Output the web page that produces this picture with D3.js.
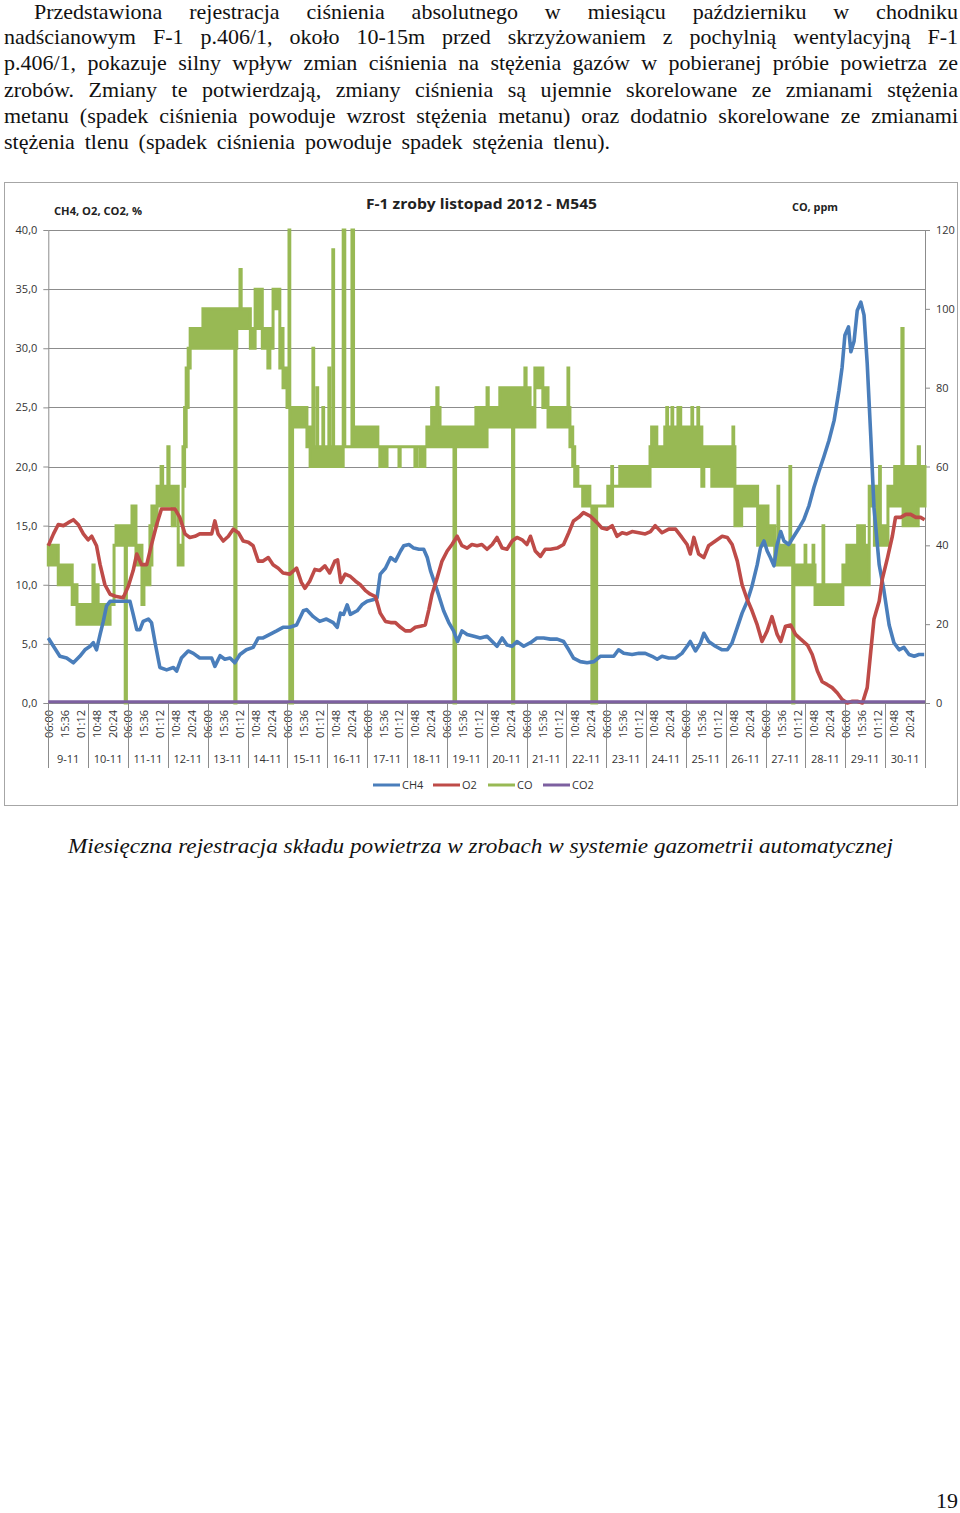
<!DOCTYPE html>
<html><head><meta charset="utf-8">
<script src="https://cdn.jsdelivr.net/npm/d3@7"></script>
<style>
body{margin:0;background:#fff;}
#page{position:relative;width:960px;height:1513px;overflow:hidden;background:#fff;}
.ln{position:absolute;font-family:'Liberation Serif','Times New Roman',serif;font-size:22px;line-height:18px;white-space:nowrap;color:#111;}
svg{position:absolute;left:0;top:0;}
</style></head><body><div id="page"></div>
<script>
// ---------------- DATA ----------------
const paragraphLines = [
  "Przedstawiona rejestracja ciśnienia absolutnego w miesiącu październiku w chodniku",
  "nadścianowym F-1 p.406/1, około 10-15m przed skrzyżowaniem z pochylnią wentylacyjną F-1",
  "p.406/1, pokazuje silny wpływ zmian ciśnienia na stężenia gazów w pobieranej próbie powietrza ze",
  "zrobów. Zmiany te potwierdzają, zmiany ciśnienia są ujemnie skorelowane ze zmianami stężenia",
  "metanu (spadek ciśnienia powoduje wzrost stężenia metanu) oraz dodatnio skorelowane ze zmianami",
  "stężenia tlenu (spadek ciśnienia powoduje spadek stężenia tlenu)."
];
const chartTitle = "F-1 zroby listopad 2012 - M545";
const leftAxisTitle = "CH4, O2, CO2, %";
const rightAxisTitle = "CO, ppm";
const caption = "Miesięczna rejestracja składu powietrza w zrobach w systemie gazometrii automatycznej";
const pageNumber = "19";

const days = ["9-11","10-11","11-11","12-11","13-11","14-11","15-11","16-11","17-11","18-11","19-11",
              "20-11","21-11","22-11","23-11","24-11","25-11","26-11","27-11","28-11","29-11","30-11"];
const timeLabels = ["06:00","15:36","01:12","10:48","20:24"];
const leftTicks = [0,5,10,15,20,25,30,35,40];
const rightTicks = [0,20,40,60,80,100,120];
const seriesNames = ["CH4","O2","CO","CO2"];

// [day offset from 9-11 06:00, %]
const ch4 = [[0.00,5.5],[0.13,4.8],[0.29,3.95],[0.46,3.8],[0.63,3.4],[0.79,3.95],[0.92,4.5],[1.05,4.8],[1.13,5.1],[1.21,4.5],[1.30,5.8],[1.38,6.9],[1.46,8.2],[1.55,8.6],[1.71,8.6],[1.88,8.6],[2.05,8.6],[2.13,7.5],[2.22,6.2],[2.30,6.2],[2.38,6.9],[2.51,7.1],[2.59,6.8],[2.68,5.1],[2.80,3.0],[2.97,2.8],[3.14,3.0],[3.22,2.7],[3.34,3.8],[3.51,4.4],[3.64,4.2],[3.80,3.8],[3.97,3.8],[4.10,3.8],[4.18,3.1],[4.31,4.0],[4.43,3.7],[4.56,3.8],[4.68,3.4],[4.81,4.1],[4.97,4.5],[5.14,4.7],[5.27,5.5],[5.39,5.5],[5.56,5.8],[5.73,6.1],[5.89,6.4],[6.06,6.4],[6.23,6.6],[6.40,7.8],[6.48,7.9],[6.65,7.3],[6.81,6.9],[6.98,7.1],[7.15,6.8],[7.25,6.4],[7.33,7.6],[7.41,7.5],[7.50,8.3],[7.58,7.5],[7.75,7.8],[7.87,8.3],[8.00,8.6],[8.17,8.75],[8.25,8.9],[8.33,10.9],[8.46,11.4],[8.59,12.3],[8.71,12.0],[8.84,12.85],[8.92,13.3],[9.05,13.4],[9.17,13.1],[9.30,13.0],[9.42,13.0],[9.51,12.3],[9.59,11.2],[9.76,9.5],[9.92,7.8],[10.05,6.8],[10.17,6.1],[10.27,5.2],[10.38,6.1],[10.51,5.8],[10.68,5.65],[10.84,5.5],[11.01,5.65],[11.14,5.2],[11.26,4.8],[11.39,5.5],[11.51,4.9],[11.64,4.8],[11.76,5.2],[11.93,4.8],[12.10,5.1],[12.26,5.5],[12.43,5.5],[12.60,5.4],[12.77,5.4],[12.93,5.2],[13.06,4.5],[13.18,3.8],[13.35,3.5],[13.52,3.4],[13.69,3.5],[13.85,3.95],[14.02,3.95],[14.19,3.95],[14.31,4.5],[14.44,4.2],[14.65,4.1],[14.82,4.2],[14.98,4.2],[15.15,3.95],[15.28,3.7],[15.40,3.95],[15.57,3.8],[15.74,3.8],[15.90,4.2],[16.03,4.8],[16.11,5.2],[16.24,4.4],[16.37,5.1],[16.45,5.9],[16.57,5.2],[16.74,4.8],[16.91,4.5],[17.04,4.5],[17.16,5.1],[17.29,6.4],[17.41,7.6],[17.54,8.6],[17.66,9.9],[17.79,11.7],[17.87,13.1],[17.96,13.7],[18.04,12.85],[18.12,12.3],[18.21,11.6],[18.29,13.4],[18.38,14.5],[18.46,13.7],[18.58,13.4],[18.71,14.1],[18.84,14.8],[18.96,15.5],[19.09,16.7],[19.21,18.2],[19.34,19.6],[19.46,20.8],[19.59,22.2],[19.72,23.9],[19.84,26.4],[19.92,28.4],[19.99,31.1],[20.08,31.8],[20.14,29.7],[20.22,30.6],[20.30,33.2],[20.39,33.9],[20.47,32.8],[20.55,28.7],[20.64,22.5],[20.72,16.5],[20.85,11.7],[20.97,9.5],[21.10,6.6],[21.22,5.1],[21.35,4.5],[21.47,4.7],[21.60,4.1],[21.73,3.95],[21.85,4.1],[21.98,4.1]];

const o2 = [[0.00,13.3],[0.13,14.3],[0.25,15.1],[0.38,15.0],[0.50,15.25],[0.63,15.5],[0.75,15.1],[0.88,14.3],[1.00,13.8],[1.09,14.1],[1.21,13.3],[1.30,11.7],[1.42,10.0],[1.55,9.2],[1.71,9.0],[1.88,8.9],[2.01,9.9],[2.13,11.2],[2.22,12.6],[2.34,11.7],[2.47,11.7],[2.59,13.4],[2.72,15.1],[2.84,16.4],[2.97,16.4],[3.09,16.4],[3.18,16.4],[3.30,15.7],[3.43,14.3],[3.55,14.0],[3.68,14.1],[3.80,14.3],[3.97,14.3],[4.10,14.3],[4.18,15.4],[4.26,14.3],[4.39,13.7],[4.52,14.1],[4.64,14.7],[4.77,14.4],[4.89,13.7],[5.02,13.6],[5.14,13.3],[5.27,12.0],[5.39,12.0],[5.52,12.3],[5.64,11.7],[5.77,11.4],[5.89,11.0],[6.06,10.9],[6.23,11.4],[6.35,10.2],[6.44,9.7],[6.56,10.3],[6.69,11.3],[6.81,11.2],[6.94,11.6],[7.06,11.0],[7.19,12.0],[7.26,12.1],[7.34,10.2],[7.45,10.9],[7.58,10.7],[7.71,10.3],[7.83,10.0],[7.96,9.5],[8.08,9.2],[8.21,9.0],[8.33,7.6],[8.46,6.9],[8.59,6.8],[8.71,6.8],[8.84,6.4],[8.96,6.1],[9.09,6.1],[9.21,6.4],[9.34,6.5],[9.46,6.6],[9.55,7.9],[9.63,9.2],[9.76,10.6],[9.88,12.0],[10.01,12.85],[10.13,13.4],[10.26,14.1],[10.38,13.3],[10.51,13.1],[10.63,13.4],[10.76,13.3],[10.88,13.4],[11.01,13.0],[11.14,13.4],[11.26,14.0],[11.39,13.1],[11.51,13.0],[11.64,13.7],[11.76,14.0],[11.89,13.8],[12.01,13.4],[12.10,14.1],[12.22,12.85],[12.35,12.4],[12.47,13.0],[12.60,13.0],[12.77,13.1],[12.93,13.4],[13.06,14.4],[13.18,15.4],[13.31,15.7],[13.43,16.1],[13.60,15.8],[13.77,15.25],[13.89,14.8],[14.02,14.7],[14.15,15.0],[14.27,14.1],[14.40,14.4],[14.52,14.3],[14.65,14.5],[14.82,14.4],[14.98,14.3],[15.11,14.5],[15.23,15.0],[15.40,14.4],[15.57,14.7],[15.74,14.7],[15.90,14.0],[16.03,13.4],[16.11,12.6],[16.20,14.0],[16.32,12.6],[16.45,12.3],[16.57,13.3],[16.74,13.7],[16.91,14.1],[17.04,14.0],[17.16,13.4],[17.29,12.0],[17.41,10.0],[17.54,8.75],[17.66,7.8],[17.79,6.6],[17.91,5.2],[18.04,6.1],[18.16,7.3],[18.29,5.8],[18.38,5.2],[18.50,6.5],[18.63,6.6],[18.75,5.8],[18.88,5.4],[19.05,4.9],[19.17,4.1],[19.30,2.7],[19.42,1.8],[19.55,1.55],[19.67,1.3],[19.80,0.85],[19.92,0.3],[20.05,0.0],[20.18,0.15],[20.30,0.15],[20.43,0.0],[20.55,1.3],[20.64,4.4],[20.72,7.1],[20.85,8.6],[20.93,10.5],[21.06,12.3],[21.18,14.1],[21.26,15.7],[21.39,15.7],[21.52,15.95],[21.64,15.95],[21.77,15.7],[21.89,15.7],[21.99,15.5]];

// CO (ppm): step segments starting at coT, with the band of readings between coLo and coHi
const coT  = [0.00,0.25,0.60,0.72,1.12,1.15,1.25,1.55,1.65,1.70,1.93,1.96,2.10,2.20,2.35,2.40,2.55,2.60,2.73,2.83,2.87,3.00,3.03,3.11,3.18,3.26,3.33,3.38,3.42,3.46,3.51,3.56,3.88,4.68,4.71,4.73,4.81,4.84,5.07,5.19,5.37,5.51,5.56,5.64,5.81,5.89,5.99,6.04,6.06,6.13,6.49,6.57,6.64,6.66,6.74,6.76,6.89,6.91,7.04,7.06,7.14,7.16,7.40,7.44,7.62,7.66,8.27,8.32,8.50,8.80,8.83,9.20,9.25,9.33,9.45,9.50,9.62,9.75,9.78,9.83,10.18,10.22,10.73,11.01,11.04,11.33,11.65,11.68,11.96,11.99,12.09,12.21,12.41,12.54,13.04,13.06,13.09,13.16,13.21,13.29,13.41,13.59,13.64,13.76,14.04,14.14,14.16,14.34,15.10,15.14,15.27,15.47,15.52,15.54,15.65,15.67,15.80,15.87,16.15,16.17,16.30,16.32,16.40,16.45,16.65,17.18,17.20,17.23,17.40,17.80,18.06,18.23,18.31,18.33,18.61,18.63,18.68,18.71,18.99,19.01,19.19,19.21,19.24,19.44,19.46,19.94,20.04,20.31,20.48,20.60,20.73,20.79,20.81,20.86,20.88,21.07,21.24,21.42,21.45,21.83,21.86];
const coLo = [35,30,25,20,20,20,20,25,40,40,0,40,40,35,25,30,35,45,50,50,50,50,50,45,50,35,35,55,65,75,85,90,90,0,90,95,95,95,90,95,90,85,90,100,85,80,75,75,0,70,65,60,60,60,60,60,60,60,60,60,60,60,65,65,65,65,65,60,65,60,65,60,65,60,65,65,65,65,65,65,0,65,65,70,70,70,0,70,70,70,70,80,75,70,70,70,65,60,55,55,50,50,0,50,50,50,55,55,60,60,60,60,60,60,60,60,60,60,60,60,60,60,55,60,55,55,55,45,50,40,40,35,35,35,35,35,0,30,30,30,30,30,25,25,25,30,30,30,30,50,40,40,40,40,40,50,50,50,45,50,50];
const coHi = [40,35,30,25,35,30,25,25,40,45,45,45,50,40,35,35,45,50,55,60,55,65,55,55,55,40,35,65,75,85,90,95,100,100,100,100,110,100,95,105,95,95,95,105,95,85,80,120,75,75,70,65,90,65,80,65,75,65,85,65,115,65,120,65,120,70,65,65,65,65,65,65,65,65,65,70,75,80,75,70,70,70,75,80,75,80,80,80,85,80,75,85,80,75,85,75,70,65,60,55,55,50,50,50,55,60,55,60,65,70,65,70,75,70,75,70,75,70,75,70,75,70,65,65,65,70,65,55,55,50,45,40,55,40,60,40,40,35,40,35,40,35,30,45,30,35,40,45,40,55,45,55,45,60,45,55,60,95,60,65,60];

// CO2 (%), one reading per day boundary
const co2 = [[0,0.1],[1,0.1],[2,0.1],[3,0.1],[4,0.1],[5,0.1],[6,0.1],[7,0.1],[8,0.1],[9,0.1],[10,0.1],[11,0.1],[12,0.1],[13,0.1],[14,0.1],[15,0.1],[16,0.1],[17,0.1],[18,0.1],[19,0.1],[20,0.1],[21,0.1],[22,0.1]];

// ---------------- DRAWING ----------------
const W = 960, H = 1513;
const colors = {CH4:"#4A7EBB", O2:"#BE4B48", CO:"#98B954", CO2:"#7D60A0"};
const axisColor = "#8c8c8c";
const sans = "'Open Sans','Noto Sans',sans-serif";
const page = d3.select("#page");

// body paragraph, each line justified to its measured target width
const lineGeom = [[34,924],[4,954],[4,954],[4,954],[4,954],[4,606]];
const baselines = [19.8,44.6,70.8,97.0,123.2,149.4];
const fs = 22, lh = 18;
const baseOff = (lh - fs*(0.891+0.216))/2 + fs*0.891;
paragraphLines.forEach((t,i)=>{
  const div = page.append("div").attr("class","ln")
     .style("left", lineGeom[i][0]+"px").style("top",(baselines[i]-baseOff)+"px");
  const span = div.append("span").text(t);
  const w = span.node().getBoundingClientRect().width;
  const n = (t.match(/ /g)||[]).length;
  span.style("word-spacing", ((lineGeom[i][1]-w)/n)+"px");
});

const svg = page.append("svg").attr("width",W).attr("height",H);

const x = d3.scaleLinear().domain([0,22]).range([48.3,925]);
const yL = d3.scaleLinear().domain([0,40]).range([703,230]);
const yR = d3.scaleLinear().domain([0,120]).range([703,230]);

// chart frame
svg.append("rect").attr("x",4.5).attr("y",182.5).attr("width",953).attr("height",623)
   .attr("fill","#fff").attr("stroke","#a6a6a6").attr("stroke-width",1);

// gridlines
svg.append("g").selectAll("line").data(leftTicks).join("line")
   .attr("x1",x(0)).attr("x2",x(22))
   .attr("y1",d=>Math.round(yL(d))+0.5).attr("y2",d=>Math.round(yL(d))+0.5)
   .attr("stroke",axisColor).attr("stroke-width",1);

function styleAxis(g){
  g.select(".domain").attr("stroke",axisColor);
  g.selectAll(".tick line").attr("stroke",axisColor);
  g.selectAll("text").attr("font-family",sans).attr("font-size",11).attr("fill","#333");
}
// left axis
svg.append("g").attr("transform",`translate(${x(0)},0)`)
   .call(d3.axisLeft(yL).tickValues(leftTicks).tickSize(5).tickSizeOuter(0).tickPadding(6)
         .tickFormat(d=>d.toFixed(1).replace(".",",")))
   .call(styleAxis);
// right axis
svg.append("g").attr("transform",`translate(${x(22)},0)`)
   .call(d3.axisRight(yR).tickValues(rightTicks).tickSize(5).tickSizeOuter(0).tickPadding(6))
   .call(styleAxis);

// bottom time labels (every 9h36m = 0.4 day)
const timeTicks = d3.range(0,55).map(k=>k*0.4);
const bx = svg.append("g").attr("transform","translate(0,703)")
   .call(d3.axisBottom(x).tickValues(timeTicks).tickSize(0).tickSizeOuter(0)
         .tickFormat((d,i)=>timeLabels[i%timeLabels.length]))
   .call(styleAxis);
bx.select(".domain").attr("stroke",axisColor);
bx.selectAll(".tick text").attr("text-anchor","end").attr("transform","rotate(-90)")
   .attr("x",-7).attr("y",0).attr("dy","0.36em");

// day separators and labels
const dayBounds = d3.range(0,23);
svg.append("g").selectAll("line").data(dayBounds).join("line")
   .attr("x1",d=>Math.round(x(d))+0.5).attr("x2",d=>Math.round(x(d))+0.5)
   .attr("y1",703).attr("y2",768).attr("stroke",axisColor);
svg.append("g").selectAll("text").data(days).join("text")
   .attr("x",(d,i)=>x(i+0.5)).attr("y",763).attr("text-anchor","middle")
   .attr("font-family",sans).attr("font-size",11).attr("fill","#333").text(d=>d);

// CO band (secondary axis)
const coRows = coT.map((t,i)=>({t, lo:coLo[i], hi:coHi[i]}));
coRows.push({t:22, lo:coLo[coLo.length-1], hi:coHi[coHi.length-1]});
svg.append("path").datum(coRows)
   .attr("d", d3.area().x(d=>x(d.t)).y0(d=>yR(d.lo)).y1(d=>yR(d.hi)).curve(d3.curveStepAfter))
   .attr("fill",colors.CO).attr("stroke",colors.CO).attr("stroke-width",3).attr("stroke-linejoin","miter");

// CH4, O2, CO2 lines
const line = d3.line().x(d=>x(d[0])).y(d=>yL(d[1]));
[[ch4,colors.CH4,3.6],[o2,colors.O2,3.6],[co2,colors.CO2,3]].forEach(([data,c,w])=>{
  svg.append("path").datum(data).attr("d",line).attr("fill","none")
     .attr("stroke",c).attr("stroke-width",w).attr("stroke-linejoin","round");
});

// titles
svg.append("text").attr("x",366).attr("y",209).attr("font-family",sans).attr("font-weight","bold")
   .attr("font-size",14.5).attr("fill","#222").attr("textLength",231).attr("lengthAdjust","spacingAndGlyphs").text(chartTitle);
svg.append("text").attr("x",54).attr("y",215).attr("font-family",sans).attr("font-weight","bold")
   .attr("font-size",11).attr("fill","#222").attr("textLength",88).attr("lengthAdjust","spacingAndGlyphs").text(leftAxisTitle);
svg.append("text").attr("x",792).attr("y",211).attr("font-family",sans).attr("font-weight","bold")
   .attr("font-size",11).attr("fill","#222").attr("textLength",46).attr("lengthAdjust","spacingAndGlyphs").text(rightAxisTitle);

// legend
const legX = [373,433,488,543];
const leg = svg.append("g").selectAll("g").data(seriesNames).join("g")
   .attr("transform",(d,i)=>`translate(${legX[i]},785)`);
leg.append("line").attr("x1",0).attr("x2",27).attr("y1",0).attr("y2",0)
   .attr("stroke",d=>colors[d]).attr("stroke-width",3);
leg.append("text").attr("x",29).attr("y",4).attr("font-family",sans).attr("font-size",11)
   .attr("fill","#333").text(d=>d);

// caption and page number
svg.append("text").attr("x",68).attr("y",853).attr("font-family","'Liberation Serif','Times New Roman',serif")
   .attr("font-style","italic").attr("font-size",22).attr("fill","#111")
   .attr("textLength",825).attr("lengthAdjust","spacingAndGlyphs").text(caption);
svg.append("text").attr("x",958).attr("y",1508).attr("text-anchor","end")
   .attr("font-family","'Liberation Serif','Times New Roman',serif").attr("font-size",22).attr("fill","#111").text(pageNumber);
</script></body></html>
